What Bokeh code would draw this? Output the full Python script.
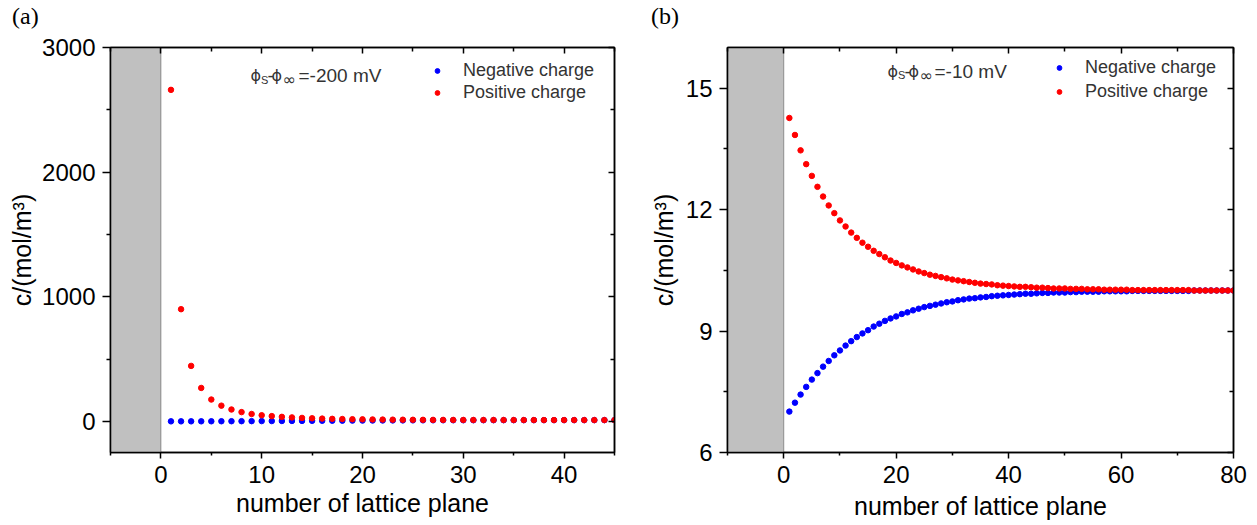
from bokeh.plotting import figure
from bokeh.models import (Range1d, FixedTicker, LinearAxis, BoxAnnotation, Label,
                          Legend, LegendItem, CustomJSTickFormatter, Div)
from bokeh.layouts import row, column
from bokeh.embed import file_html
from bokeh.resources import INLINE

# ---------------- data ----------------
planes_a = list(range(1, 46))
pos_a = [2660, 900, 445, 268, 175, 126, 95, 74, 59, 49,
         42, 36, 31.5, 27.5, 24.5, 22, 20, 18.5, 17, 16,
         15, 14.2, 13.5, 13, 12.5, 12.1, 11.8, 11.5, 11.3, 11.1,
         10.9, 10.8, 10.7, 10.6, 10.5, 10.4, 10.35, 10.3, 10.25, 10.2,
         10.2, 10.15, 10.1, 10.1, 10.1]
neg_a = [0.04, 0.11, 0.22, 0.37, 0.57, 0.79, 1.05, 1.35, 1.69, 2.04,
         2.38, 2.78, 3.17, 3.64, 4.08, 4.55, 5.0, 5.41, 5.88, 6.25,
         6.67, 7.04, 7.41, 7.69, 8.0, 8.26, 8.47, 8.70, 8.85, 9.01,
         9.17, 9.26, 9.35, 9.43, 9.52, 9.62, 9.66, 9.71, 9.76, 9.80,
         9.80, 9.85, 9.90, 9.90, 9.90]

planes_b = list(range(1, 81))
pos_b = [14.26, 13.84, 13.46, 13.12, 12.83, 12.56, 12.32, 12.10, 11.91, 11.73,
         11.58, 11.43, 11.30, 11.18, 11.08, 10.98, 10.90, 10.82, 10.74, 10.68,
         10.62, 10.57, 10.52, 10.47, 10.43, 10.39, 10.36, 10.33, 10.30, 10.27,
         10.25, 10.23, 10.21, 10.19, 10.17, 10.16, 10.15, 10.13, 10.12, 10.11,
         10.10, 10.09, 10.09, 10.08, 10.07, 10.07, 10.06, 10.05, 10.05, 10.05,
         10.04, 10.04, 10.04, 10.03, 10.03, 10.03, 10.02, 10.02, 10.02, 10.02,
         10.02, 10.01, 10.01, 10.01, 10.01, 10.01, 10.01, 10.01, 10.01, 10.01,
         10.01, 10.01, 10.00, 10.00, 10.00, 10.00, 10.00, 10.00, 10.00, 10.00]
neg_b = [7.01, 7.23, 7.43, 7.62, 7.80, 7.96, 8.12, 8.26, 8.40, 8.52,
         8.64, 8.75, 8.85, 8.94, 9.02, 9.11, 9.18, 9.25, 9.31, 9.36,
         9.42, 9.46, 9.51, 9.55, 9.59, 9.62, 9.65, 9.68, 9.71, 9.73,
         9.76, 9.78, 9.80, 9.81, 9.83, 9.84, 9.86, 9.87, 9.88, 9.89,
         9.90, 9.91, 9.92, 9.92, 9.93, 9.94, 9.94, 9.95, 9.95, 9.95,
         9.96, 9.96, 9.97, 9.97, 9.97, 9.97, 9.98, 9.98, 9.98, 9.98,
         9.98, 9.99, 9.99, 9.99, 9.99, 9.99, 9.99, 9.99, 9.99, 9.99,
         9.99, 9.99, 10.00, 10.00, 10.00, 10.00, 10.00, 10.00, 10.00, 10.00]

xticks_a = [0, 10, 20, 30, 40]
xminor_a = [-5, 5, 15, 25, 35, 45]
yticks_a = [0, 1000, 2000, 3000]
yminor_a = [500, 1500, 2500]
xticks_b = [0, 20, 40, 60, 80]
xminor_b = [-10, 10, 30, 50, 70]
yticks_b = [6, 9, 12, 15]
yminor_b = [7.5, 10.5, 13.5]

x_label = "number of lattice plane"
y_label = "c/(mol/m\u00b3)"
legend_labels = ["Negative charge", "Positive charge"]
potential_a = "=-200 mV"
potential_b = "=-10 mV"
tags = ["(a)", "(b)"]

FONT = "Liberation Sans"
SYM = "DejaVu Sans"
TXT = "#333333"
TAG_H = 28


def make_panel(xr, yr, xt, xm, yt, ym, planes, neg, pos, bl, br, fw,
               anchor, pot_text, pot_off, leg_loc, leg_spacing, ystandoff, xstandoff):
    p = figure(x_range=Range1d(*xr), y_range=Range1d(*yr),
               frame_width=fw, frame_height=405,
               min_border_left=bl, min_border_right=br,
               min_border_top=47 - TAG_H, min_border_bottom=73,
               output_backend="svg", toolbar_location=None,
               background_fill_color="white", border_fill_color="white")
    p.xgrid.visible = False
    p.ygrid.visible = False
    p.outline_line_color = "black"
    p.outline_line_width = 1.5

    # main axes
    xa = p.xaxis[0]
    xa.ticker = FixedTicker(ticks=xt, minor_ticks=xm)
    xa.major_tick_out = 6
    xa.major_tick_in = 0
    xa.minor_tick_out = 3
    xa.minor_tick_in = 0
    xa.major_label_standoff = 7
    xa.axis_label = x_label
    xa.axis_label_standoff = xstandoff
    ya = p.yaxis[0]
    ya.ticker = FixedTicker(ticks=yt, minor_ticks=ym)
    ya.major_tick_out = 8
    ya.major_tick_in = 0
    ya.minor_tick_out = 4
    ya.minor_tick_in = 0
    ya.major_label_standoff = 7
    ya.axis_label = y_label
    ya.axis_label_standoff = ystandoff
    for ax in (xa, ya):
        ax.axis_line_color = "black"
        ax.axis_line_width = 1.5
        ax.major_tick_line_color = "black"
        ax.major_tick_line_width = 1.5
        ax.minor_tick_line_color = "black"
        ax.minor_tick_line_width = 1.5
        ax.major_label_text_font = FONT
        ax.major_label_text_font_size = "24px"
        ax.major_label_text_color = "black"
        ax.axis_label_text_font = FONT
        ax.axis_label_text_font_size = "25px"
        ax.axis_label_text_font_style = "normal"
        ax.axis_label_text_color = "black"

    # mirror axes with inward ticks
    blank = CustomJSTickFormatter(code="return ''")
    top = LinearAxis(ticker=FixedTicker(ticks=xt, minor_ticks=xm), formatter=blank,
                     major_tick_in=6, major_tick_out=0, minor_tick_in=4, minor_tick_out=0,
                     major_label_standoff=0)
    right = LinearAxis(ticker=FixedTicker(ticks=yt, minor_ticks=ym), formatter=blank,
                       major_tick_in=6, major_tick_out=0, minor_tick_in=4, minor_tick_out=0,
                       major_label_standoff=0)
    for ax in (top, right):
        ax.axis_line_color = "black"
        ax.axis_line_width = 1.5
        ax.major_tick_line_width = 1.5
        ax.minor_tick_line_width = 1.5
        ax.major_label_text_font_size = "1px"
    p.add_layout(top, "above")
    p.add_layout(right, "right")

    # grey electrode region
    p.add_layout(BoxAnnotation(left=xr[0], right=0, fill_color="#c0c0c0", fill_alpha=1.0,
                               line_color="black", line_width=1.2, level="underlay"))

    r_neg = p.scatter(planes, neg, size=5.5, color="#0000ff")
    r_pos = p.scatter(planes, pos, size=5.5, color="#ff0000")

    leg = Legend(items=[LegendItem(label=legend_labels[0], renderers=[r_neg]),
                        LegendItem(label=legend_labels[1], renderers=[r_pos])],
                 location=leg_loc, orientation="vertical",
                 border_line_color=None, background_fill_alpha=0,
                 padding=0, margin=0, spacing=leg_spacing,
                 glyph_width=12, glyph_height=21, label_height=21, label_standoff=20,
                 label_text_font=FONT, label_text_font_size="18px",
                 label_text_color=TXT)
    p.add_layout(leg)

    ax_, ay_ = anchor
    pieces = [("\u03d5", 0, 5, SYM, "16px"),
              ("S", 10.5, 1, FONT, "11px"),
              ("-", 17, 5, FONT, "19px"),
              ("\u03d5", 21, 5, SYM, "16px"),
              ("\u221e", 32, 1, SYM, "16px"),
              (pot_text, pot_off, 5, FONT, "19px")]
    for t, xo, yo, fnt, fs in pieces:
        p.add_layout(Label(x=ax_, y=ay_, x_offset=xo, y_offset=yo, text=t,
                           text_font=fnt, text_font_size=fs, text_color=TXT,
                           text_baseline="alphabetic", text_align="left"))
    return p


def make_tag(text, width, pad_left):
    html = (f'<span style="display:inline-block; font-family:\'Liberation Serif\'; '
            f'font-size:24px; line-height:24px; color:black; '
            f'margin-left:{pad_left}px; margin-top:4px;">{text}</span>')
    return Div(text=html, width=width, height=TAG_H, margin=(0, 0, 0, 0))


pa = make_panel((-5, 45), (-250, 3000), xticks_a, xminor_a, yticks_a, yminor_a,
                planes_a, neg_a, pos_a, 110, 26, 504,
                (8.89, 2735), potential_a, 48, (321, 349), 1, 3, 3)
pb = make_panel((-10, 80), (6, 16), xticks_b, xminor_b, yticks_b, yminor_b,
                planes_b, neg_b, pos_b, 87, 24, 506,
                (18.46, 15.284), potential_b, 47, (326, 350), 3, 5, 6)

ta = make_tag(tags[0], 640, 12)
tb = make_tag(tags[1], 617, 11)

layout = column(row(ta, tb, spacing=0), row(pa, pb, spacing=0), spacing=0)
open("out.html", "w").write(file_html(layout, INLINE))
